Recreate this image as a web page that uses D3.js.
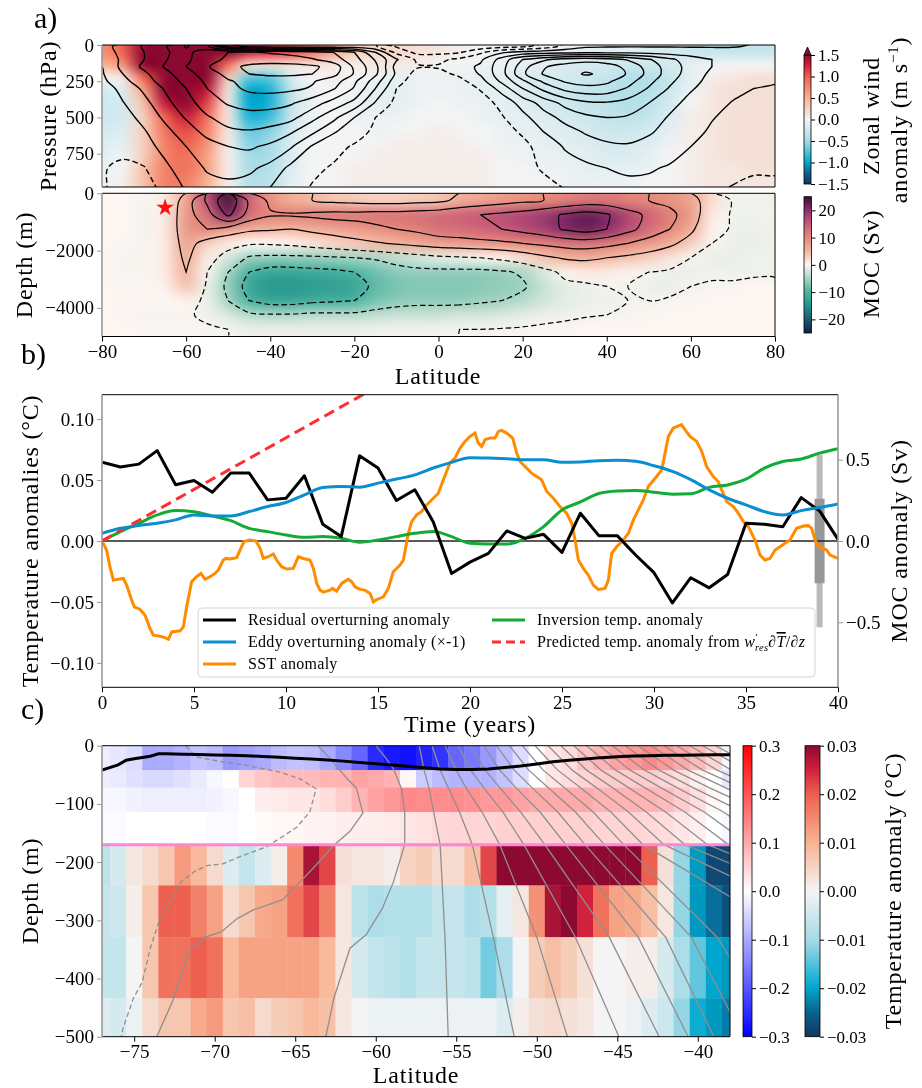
<!DOCTYPE html>
<html>
<head>
<meta charset="utf-8">
<script src="https://cdn.jsdelivr.net/npm/d3@7"></script>
<style>
  body { margin: 0; background: #fff; }
  #wrap { position: relative; width: 922px; height: 1088px; }
  #heat, #fig { position: absolute; left: 0; top: 0; }
  svg text { font-family: "Liberation Serif", "DejaVu Serif", serif; fill: #000; }
</style>
</head>
<body>
<div id="wrap">
<canvas id="heat" width="922" height="1088"></canvas>
<svg id="fig" width="922" height="1088"></svg>
</div>
<script>
// ---------------- panel a (top): zonal wind ----------------
const latA = [-80,-75,-70,-65,-60,-55,-50,-45,-40,-35,-30,-25,-20,-15,-10,-5,0,5,10,15,20,25,30,35,40,45,50,55,60,65,70,75,80];
// mean zonal wind (contours), rows = pressure levels
const presU = [10, 50, 100, 150, 200, 250, 300, 400, 500, 600, 700, 850, 1000];
const uMean = [
  [8,12,15.5,19.5,25.5,21,8,3,2,1.5,1.5,1.5,1.5,0.5,-5.5,-8.5,-8.5,-8.5,-8,-7,-6,-3,1.5,4.3,4.6,4.7,4.7,4.7,4.7,4.7,4.8,5.3,5.6],
  [7.5,11.5,15,19,23.5,28,30,30.5,29.5,28.5,27,25,20,10,-1.5,-6.5,-6.5,-5.5,-1,4,6.5,7.5,8,8.5,8.5,8.5,8,7.5,7,6.5,6.2,6,6],
  [6.5,11,15,19.5,24,28,31,32.5,32.5,32,30.5,27.5,22,14.5,5.5,-1,-1,1,4,12,20,24,27,28,27,24.5,20.5,16,12.5,10,8.5,7.5,7],
  [5,11.5,16,20.5,25,29.5,33.5,36,37,37,36,33,24,16.5,3,0.5,0.5,2.5,6,13,23,29.5,32,33.5,32.5,28.5,23,17.5,13,10,8,7,6.5],
  [4.5,10,14,18.5,23,27.5,31.5,35,36,36,35,31.5,24.5,16,4,-2,-1.5,1,5.5,13,24,30.5,33,35.5,34,29.5,23.5,17.5,12.5,9,7,6,5.5],
  [3.8,8.5,13,17,21.5,26,29.5,31.5,32,31.5,30.5,27.5,21,12.5,2,-3,-3,-1.5,3,11,19,26,30.5,32,31,27,21.5,16,11.5,8.5,6.5,5.5,5.3],
  [2.5,6.5,11,15.5,20,25,28.5,31,31.5,31,29.5,25.5,19.5,10,0,-4,-4,-3,0.5,7,15,21.5,26.5,28.5,28,24.5,19.5,14.5,10.5,7.8,6,5,4.6],
  [1.5,4.8,8.5,13.5,18,22.5,25.5,27,27,25.5,22.5,18,13.5,4.5,-1.5,-4,-4.5,-4.5,-2.5,1.5,7,12,16.5,19,19.5,18,15,11.5,8.5,6.2,4.8,4,3.5],
  [0.5,3,6.5,11,15.5,19.5,22,23,22.5,21.5,16.5,11.5,5,0,-2.5,-4.5,-4.5,-4.5,-3.5,-0.5,3.5,8,11.5,14,15,14.5,12.5,9.5,7,5.2,4,3.2,2.8],
  [0.8,1.5,4.5,8.5,12.5,16.5,19,19.5,18.5,15.5,11,5.5,2,-1,-3,-4.2,-4.5,-4.5,-4,-1.5,0.5,5,8,10.5,12,12,10.5,8.5,6,4.5,3.5,2.8,2.5],
  [0.5,1.2,3.2,6.5,10,13,15,15.8,14,10.5,4.5,1.5,-0.5,-2.5,-3.5,-4.3,-4.5,-4.5,-4.3,-2.5,-1,1.5,5.5,7.5,9,9.5,8.5,7,5,3.8,2.8,2.2,2],
  [0.3,-0.8,-0.3,4,7.5,10.5,11.5,11,8.5,3.5,1,-0.5,-2.5,-4,-4.5,-4.6,-4.6,-4.6,-4.5,-3.5,-1.5,0.5,2.5,4,5,5.8,5.5,4.5,3,2,1,0.5,0.5],
  [0.5,-1.8,-1.5,0.8,5.5,8,8.5,7.5,4.5,1.5,-0.5,-2.5,-4,-4.5,-4.5,-4,-4,-4.5,-4.5,-3.5,-2.5,-1.5,-0.1,1.5,3,3.5,3.5,2.5,1.5,0.5,-0.3,-1,-1]
];
const uLevels = [-5, 0, 5, 10, 15, 20, 25, 30, 35];
// zonal wind anomaly (shading)
const presAnom = [45, 135, 225, 315, 405, 495, 585, 675, 765, 855, 945];
const uAnom = [
  [0.7,1.0,1.6,1.8,1.8,1.8,1.5,1.3,1.2,1.1,0.9,0.6,0.3,0.2,0.2,0.15,0.1,0.05,0,-0.05,-0.05,-0.05,-0.05,-0.1,-0.1,-0.1,-0.15,-0.2,-0.25,-0.3,-0.3,-0.3,-0.3],
  [0.5,0.7,1.5,1.8,1.8,1.7,0.9,0.2,0.2,0.15,0.15,0.1,0.05,0.1,0.1,0.05,0,0,-0.05,-0.05,-0.1,-0.1,-0.15,-0.2,-0.2,-0.25,-0.25,-0.2,-0.1,-0.05,0,0,0],
  [0.05,0.1,1.0,1.8,1.8,1.5,0.3,-0.7,-0.7,-0.2,0,0.05,0,-0.05,-0.1,-0.05,-0.05,-0.05,-0.1,-0.1,-0.15,-0.2,-0.2,-0.25,-0.3,-0.4,-0.4,-0.3,-0.1,0.05,0.1,0.15,0.15],
  [-0.2,-0.15,0.6,1.6,1.8,1.3,0.1,-1.0,-0.9,-0.3,-0.05,0,-0.05,-0.1,-0.1,-0.05,-0.05,-0.05,-0.1,-0.1,-0.15,-0.2,-0.25,-0.3,-0.35,-0.4,-0.4,-0.25,-0.05,0.1,0.15,0.15,0.15],
  [-0.25,-0.2,0.4,1.3,1.6,1.1,0.1,-1.0,-0.9,-0.3,-0.05,0,-0.05,-0.1,-0.1,-0.05,0,-0.05,-0.05,-0.1,-0.15,-0.2,-0.25,-0.3,-0.35,-0.4,-0.35,-0.2,0,0.1,0.15,0.15,0.15],
  [-0.25,-0.2,0.3,1.0,1.3,0.9,0.1,-0.9,-0.8,-0.25,-0.05,0,-0.05,-0.05,-0.05,0,0,0,-0.05,-0.1,-0.1,-0.15,-0.2,-0.25,-0.3,-0.35,-0.3,-0.15,0.05,0.1,0.15,0.15,0.15],
  [-0.2,-0.15,0.3,0.9,1.1,0.8,0.1,-0.7,-0.6,-0.2,-0.05,0,0,-0.05,0,0,0.05,0,0,-0.05,-0.1,-0.1,-0.15,-0.2,-0.25,-0.25,-0.2,-0.1,0.05,0.1,0.15,0.15,0.15],
  [-0.15,-0.1,0.3,0.8,1.0,0.7,0.05,-0.6,-0.5,-0.15,0,0,0,0,0.05,0.05,0.05,0.05,0,-0.05,-0.05,-0.1,-0.1,-0.15,-0.2,-0.2,-0.15,-0.05,0.05,0.1,0.15,0.15,0.15],
  [-0.1,-0.05,0.3,0.8,0.9,0.6,0.05,-0.5,-0.45,-0.15,0,0,0,0.05,0.05,0.05,0.05,0.05,0.05,0,-0.05,-0.05,-0.1,-0.1,-0.15,-0.15,-0.1,0,0.05,0.1,0.15,0.15,0.15],
  [-0.05,0,0.4,0.8,0.9,0.6,0.05,-0.45,-0.4,-0.15,0,0,0.05,0.05,0.05,0.05,0.05,0.05,0.05,0,0,-0.05,-0.05,-0.1,-0.1,-0.1,-0.05,0,0.05,0.1,0.1,0.15,0.15],
  [-0.05,0.05,0.4,0.8,0.8,0.5,0.05,-0.4,-0.35,-0.1,0,0,0.05,0.05,0.05,0.05,0.05,0.05,0.05,0,0,0,-0.05,-0.05,-0.05,-0.05,0,0,0.05,0.1,0.1,0.1,0.1]
];

// ---------------- panel a (bottom): MOC ----------------
const depthMoc = [-250, -750, -1250, -1750, -2250, -2750, -3250, -3750, -4250, -4750];
const moc = [
  [0,0,-0.3,1,7,16,24,14,9,6,5,4,3.5,3,3,3.5,4,6,7,8,9,10,11,12,12,11,10,9,7,2,-0.8,-0.8,-0.8],
  [0,0,-0.5,1,8,13,21,13,10.5,10.5,11,11.5,11.5,12,12,12.5,13,14,15,16,17,18.5,20.5,22,20.5,17,14,11,8,1,-0.8,-0.8,-0.6],
  [0,0,-0.5,1,8,10,8,6,5.5,5,6,7,8,9,10,11,12.5,13,14,15,16.5,18,20.5,22,20,16.5,13,10,6,0.5,-0.8,-1,-0.8],
  [0,-0.2,-0.3,1,7,3,1,0,0,0.5,1.5,2.5,3.5,4.5,5.5,6.5,7.5,8,8.5,9,10,11,12,12.5,11.5,10,8,6,3,-0.5,-1,-1,-0.8],
  [0,-0.3,-0.3,1,6,1,-2,-5.5,-6,-6,-5.8,-5.5,-5,-4.5,-3.5,-2.5,-1.5,-1,-0.5,0.5,2,4,5.5,6,5,4,3,1.5,-0.5,-1,-1,-0.8,-0.8],
  [0,-0.3,-0.3,1,5,-0.5,-5,-10,-12,-12,-11.5,-11,-10,-8,-6.5,-6,-6,-6,-6,-5.5,-4.5,-2,0.5,1,1,0.5,-0.5,-1,-1,-0.8,-0.8,-0.8,-0.8],
  [0,-0.2,-0.2,0.5,4,-1,-6,-12,-14,-14,-13.5,-13,-12,-9,-7.5,-7,-7,-7,-6.5,-6,-5.5,-3,-1.5,-1,-0.5,-0.5,-1,-1,-0.5,-0.3,-0.3,0,0],
  [0,-0.2,-0.1,0,0.5,-1,-5,-10,-12,-12,-11,-10.5,-10,-7.5,-6.5,-6,-6,-6,-5.5,-5,-4,-2.5,-1.5,-1,-1,-0.5,-0.5,-0.3,-0.2,0,0,0,0],
  [0,-0.1,-0.3,-0.3,-0.3,-0.8,-2,-4,-4.5,-4.5,-4,-4,-4,-3.5,-3,-3,-3,-2.5,-2.5,-2,-1.5,-1,-0.8,-0.6,-0.5,-0.3,-0.2,0,0,0,0,0,0],
  [0,0,-0.1,-0.2,-0.2,-0.3,-0.5,-1,-1,-1,-1,-1,-1,-0.8,-0.7,-0.7,-0.6,-0.5,-0.5,-0.4,-0.3,-0.2,-0.1,0,0,0,0,0,0,0,0,0,0]
];
const mocLevels = [-10, -5, -0.5, 5, 10, 15, 20];
const starPoint = [-65, -500];

// ---------------- panel b: time series ----------------
const years = [0,1,2,3,4,5,6,7,8,9,10,11,12,13,14,15,16,17,18,19,20,21,22,23,24,25,26,27,28,29,30,31,32,33,34,35,36,37,38,39,40];
const residualMoc = [0.484,0.455,0.473,0.556,0.346,0.372,0.300,0.418,0.418,0.253,0.263,0.401,0.103,0.027,0.525,0.449,0.249,0.315,0.119,-0.200,-0.130,-0.076,0.062,0.016,0.041,-0.070,0.171,0.033,0.033,-0.086,-0.195,-0.381,-0.226,-0.288,-0.206,0.109,0.103,0.088,0.267,0.185,0.010];
const eddyMoc = [0.047,0.078,0.095,0.109,0.130,0.160,0.154,0.154,0.181,0.212,0.237,0.284,0.329,0.335,0.331,0.356,0.381,0.407,0.449,0.484,0.512,0.510,0.506,0.500,0.500,0.484,0.486,0.494,0.496,0.490,0.463,0.428,0.377,0.315,0.263,0.222,0.181,0.160,0.187,0.206,0.228];
const inversionTemp = [0,0.0077,0.0145,0.0214,0.025,0.024,0.0206,0.0167,0.0104,0.0077,0.0049,0.003,0.0036,0.0022,-0.001,0.0008,0.0036,0.0063,0.0077,0.0036,-0.0019,-0.0025,-0.0025,0.0022,0.0118,0.0255,0.032,0.039,0.041,0.0414,0.04,0.0384,0.0387,0.044,0.046,0.0507,0.0598,0.0652,0.0672,0.0721,0.0757];
const sstSeries = [[0,0],[0.25,-0.0074],[0.43,-0.0211],[0.62,-0.0321],[0.8,-0.0315],[1.16,-0.0307],[1.34,-0.0362],[1.61,-0.0485],[1.76,-0.054],[2.07,-0.0562],[2.34,-0.0609],[2.61,-0.0718],[2.79,-0.0773],[3.15,-0.0781],[3.42,-0.0792],[3.61,-0.0806],[3.79,-0.0746],[4.24,-0.0737],[4.42,-0.0705],[4.6,-0.054],[4.87,-0.0334],[5.14,-0.0293],[5.38,-0.0266],[5.6,-0.0315],[5.87,-0.0293],[6.14,-0.0266],[6.32,-0.0238],[6.59,-0.0156],[6.74,-0.0143],[6.96,-0.0148],[7.32,-0.0137],[7.59,-0.0047],[7.72,-0.0005],[8.04,0.0008],[8.37,0],[8.59,-0.006],[8.77,-0.0143],[9.04,-0.0129],[9.31,-0.0107],[9.49,-0.0156],[9.76,-0.0211],[10.04,-0.023],[10.4,-0.0225],[10.67,-0.0129],[10.94,-0.0143],[11.3,-0.0156],[11.49,-0.0225],[11.67,-0.0348],[11.85,-0.0403],[12.03,-0.0419],[12.39,-0.0403],[12.52,-0.0389],[12.75,-0.0411],[13.03,-0.0348],[13.39,-0.0313],[13.57,-0.0334],[13.75,-0.0376],[14.02,-0.0397],[14.29,-0.0403],[14.57,-0.043],[14.75,-0.0499],[14.93,-0.048],[15.29,-0.0458],[15.56,-0.0389],[15.83,-0.0252],[16.2,-0.0197],[16.38,-0.0156],[16.65,0.0063],[16.83,0.0159],[17.1,0.0214],[17.37,0.0241],[17.64,0.0296],[18.01,0.0351],[18.28,0.0392],[18.55,0.0502],[18.91,0.0639],[19.18,0.068],[19.46,0.0762],[19.73,0.0817],[20,0.0858],[20.27,0.0885],[20.45,0.0803],[20.63,0.0776],[20.82,0.0831],[21.09,0.0844],[21.36,0.0844],[21.54,0.0899],[21.72,0.0907],[21.99,0.0885],[22.32,0.0844],[22.54,0.0721],[22.72,0.0652],[23.08,0.0598],[23.35,0.0556],[23.62,0.0529],[23.89,0.0502],[24.17,0.0406],[24.53,0.0351],[24.89,0.0282],[25.25,0.0228],[25.53,0.0145],[25.71,0.0008],[25.89,-0.0156],[26.16,-0.0225],[26.43,-0.028],[26.7,-0.0362],[26.97,-0.0397],[27.34,-0.0389],[27.52,-0.0321],[27.7,-0.0101],[27.97,-0.0047],[28.33,0.0008],[28.61,0.0063],[28.88,0.0173],[29.15,0.0255],[29.42,0.0337],[29.69,0.0447],[30.14,0.0529],[30.42,0.0584],[30.6,0.0721],[30.78,0.0858],[31.05,0.0927],[31.5,0.0954],[31.68,0.0913],[31.96,0.0858],[32.32,0.0817],[32.59,0.0735],[32.86,0.0611],[33.22,0.0529],[33.49,0.0488],[33.68,0.0419],[33.95,0.0323],[34.31,0.0282],[34.58,0.0228],[34.86,0.0159],[35.13,0.0118],[35.31,0.0063],[35.49,0.0008],[35.76,-0.0115],[36.03,-0.0156],[36.3,-0.0143],[36.58,-0.0074],[36.85,-0.0047],[37.12,-0.0019],[37.39,0.0008],[37.75,0.0104],[38.12,0.0123],[38.39,0.0126],[38.57,0.0104],[38.75,0.0008],[38.93,-0.0047],[39.2,-0.006],[39.38,-0.0074],[39.57,-0.0115],[40,-0.0143]];
const predicted = [[0, 0], [15, 0.127]];
const spreadYear = 39, spreadOne = 0.26, spreadTwo = 0.53;

// ---------------- panel c: temperature anomaly section ----------------
const latC = [-77,-76,-75,-74,-73,-72,-71,-70,-69,-68,-67,-66,-65,-64,-63,-62,-61,-60,-59,-58,-57,-56,-55,-54,-53,-52,-51,-50,-49,-48,-47,-46,-45,-44,-43,-42,-41,-40,-39,-38];
const depthEdges = [0, -42, -72, -114, -170, -240, -329, -434, -540];
const tempAnom = [
  [-0.02,-0.03,-0.04,-0.1,-0.1,-0.09,-0.07,-0.08,-0.12,-0.11,-0.1,-0.08,-0.07,-0.075,-0.1,-0.14,-0.18,-0.25,-0.27,-0.28,-0.26,-0.24,-0.18,-0.16,-0.12,-0.08,-0.04,0.0,0.03,0.04,0.07,0.09,0.11,0.12,0.14,0.12,0.1,0.08,0.05,-0.01],
  [-0.02,-0.025,-0.035,-0.045,-0.045,-0.035,-0.025,-0.01,0,0.05,0.07,0.08,0.08,0.08,0.09,0.09,0.11,0.1,0.09,0.01,-0.06,-0.08,-0.09,-0.09,-0.09,-0.07,-0.04,0.0,0.03,0.04,0.05,0.06,0.06,0.06,0.06,0.05,0.04,0.02,0.0,-0.03],
  [-0.01,-0.01,-0.015,-0.02,-0.02,-0.02,-0.02,-0.015,-0.01,0,0.02,0.025,0.03,0.03,0.04,0.06,0.09,0.11,0.12,0.14,0.135,0.135,0.135,0.13,0.12,0.12,0.11,0.1,0.1,0.1,0.1,0.09,0.09,0.09,0.09,0.08,0.06,0.04,0.01,0.0],
  [-0.005,-0.005,0,0,0,0,0,-0.005,-0.005,0,0.005,0.01,0.01,0.015,0.015,0.02,0.02,0.02,0.025,0.03,0.035,0.045,0.05,0.05,0.05,0.055,0.055,0.055,0.055,0.055,0.055,0.05,0.05,0.05,0.045,0.04,0.03,0.02,0.0,-0.01],
  [-0.007,-0.004,0.002,0.004,0.007,0.013,0.009,0.004,-0.003,-0.006,-0.003,0.001,0.015,0.028,0.022,0.003,0.002,0.002,0.001,0.005,0.006,0.004,0.004,0.008,0.022,0.032,0.032,0.032,0.032,0.032,0.032,0.032,0.032,0.032,0.02,0.003,-0.011,-0.021,-0.028,-0.028],
  [-0.006,-0.005,0.001,0.007,0.02,0.02,0.016,0.012,0.004,0.007,0.011,0.012,0.018,0.022,0.016,0.002,-0.007,-0.009,-0.008,-0.008,-0.008,-0.006,-0.006,-0.009,-0.008,-0.002,0.002,0.014,0.028,0.031,0.025,0.018,0.012,0.011,0.008,0.002,-0.011,-0.021,-0.024,-0.027],
  [-0.006,-0.006,0,0.007,0.018,0.018,0.02,0.018,0.009,0.012,0.012,0.012,0.012,0.012,0.009,0.002,-0.004,-0.006,-0.007,-0.008,-0.006,-0.006,-0.006,-0.007,-0.013,-0.009,0.0,0.006,0.008,0.006,0.003,0.0,0.0,0.001,0.001,-0.004,-0.009,-0.014,-0.02,-0.021],
  [-0.003,-0.004,-0.001,0.004,0.007,0.007,0.011,0.013,0.007,0.008,0.004,0.006,0.007,0.009,0.008,0.002,0,-0.001,-0.001,-0.001,-0.001,-0.001,-0.001,-0.001,-0.001,-0.003,0.001,0.003,0.004,0.003,0.002,0,0,-0.001,-0.003,-0.005,-0.011,-0.019,-0.021,-0.023]
];
const splitDepth = -170;
const mldLat = [-77,-76,-75.5,-75,-74,-73.5,-73,-72,-71,-70,-69,-68,-67,-66,-65,-64,-63,-62,-61,-60,-59,-58,-57,-56,-55,-54,-53,-52,-51,-50,-49,-48,-47,-46,-45,-44,-43,-42,-41,-40,-39,-38];
const mldDepth = [-42,-33,-25,-22.5,-18,-14,-14,-14.5,-15.2,-15.8,-16.5,-17.3,-18.5,-20,-21.5,-23,-24.5,-26.5,-29,-31,-33,-35.5,-38,-40,-41,-41,-40,-37.5,-35,-31.5,-27.5,-25,-23,-20.5,-19,-17.8,-17.2,-16.6,-16.2,-15.9,-15.6,-15.4];
// mean isotherms: irregular ones as [lat, depth] lists, regular ones as lats at isoDepths
const isoCold = [[-71.8,0],[-71.2,-19],[-69.5,-28],[-68.2,-33],[-66,-45],[-64.7,-57],[-63.7,-74],[-64.1,-114],[-64.9,-140],[-66,-160],[-66.8,-174],[-68.2,-188],[-69.5,-203],[-70.5,-206],[-71.3,-217],[-72.1,-234],[-72.8,-268],[-73.5,-305],[-74,-348],[-74.5,-406],[-75.05,-434],[-75.7,-486],[-75.8,-500]];
const isoZero = [[-63.6,0],[-62.9,-20],[-61.8,-56],[-61.2,-73],[-60.8,-116],[-61.6,-147],[-62.6,-171],[-63.7,-205],[-64.7,-234],[-65.8,-265],[-67.6,-282],[-68.6,-297],[-69.6,-320],[-70.6,-329],[-71.6,-352],[-72.6,-438],[-73.6,-500]];
const isoOne = [[-60,0],[-59.4,-20],[-58.9,-40],[-58.4,-74],[-58.2,-114],[-58.2,-170],[-58.9,-234],[-59.6,-280],[-60.6,-325],[-61.6,-348],[-62.6,-434],[-63.1,-500]];
const isoDepths = [0, -42, -72, -114, -170, -329, -500];
const isoLats = [
  [-57.3,-57.0,-56.7,-56.4,-56.0,-55.7,-55.5],
  [-56.5,-56.0,-55.5,-54.8,-54.0,-52.7,-51.4],
  [-55.7,-55.0,-54.4,-53.4,-52.3,-50.0,-48.1],
  [-54.9,-54.1,-53.3,-52.1,-50.8,-47.6,-44.9],
  [-54.1,-53.2,-52.3,-51.0,-49.5,-45.5,-42.4],
  [-53.3,-52.3,-51.3,-49.8,-48.2,-43.7,-40.6],
  [-52.5,-51.4,-50.3,-48.7,-47.0,-42.0,-39.0],
  [-51.7,-50.5,-49.3,-47.6,-45.8,-40.4,-37.2],
  [-50.9,-49.6,-48.3,-46.5,-44.6,-38.8,-35.0],
  [-50.1,-48.7,-47.3,-45.4,-43.4,-33.8,-28],
  [-49.3,-47.8,-46.3,-44.3,-42.1,-30,-22],
  [-48.5,-46.9,-45.3,-43.2,-40.8,-27,-18],
  [-47.7,-46.0,-44.3,-42.0,-39.4,-25,-15],
  [-46.9,-45.1,-43.3,-40.8,-38.1,-23,-12],
  [-46.1,-44.2,-42.3,-39.6,-36.8,-21,-10],
  [-45.3,-43.3,-41.3,-38.4,-35.5,-19,-8],
  [-44.5,-42.4,-40.3,-37.2,-34.2,-17,-6],
  [-43.7,-41.5,-39.3,-36.0,-33,-15,-4],
  [-42.9,-40.6,-38.3,-34.8,-31.7,-13,-2],
  [-42.1,-39.7,-37.3,-33.6,-30.4,-11,0],
  [-41.3,-38.8,-36.3,-32.4,-29,-9,2],
  [-40.5,-37.9,-35.3,-31.2,-28,-7,4],
  [-39.7,-37.0,-34.3,-30.0,-27,-5,6],
  [-38.9,-36.1,-33.3,-28.8,-26,-3,8]
];

// ---------------- colour maps ----------------
function ramp(stops) {
  return d3.scaleLinear().domain(stops.map(d => d[0])).range(stops.map(d => d[1]))
    .interpolate(d3.interpolateRgb).clamp(true);
}
const balance = ramp([[0,"#10385f"],[0.08,"#0a5f8e"],[0.17,"#00a9cf"],[0.33,"#a2dae6"],[0.5,"#f4f4f4"],[0.67,"#f8b190"],[0.83,"#ee6250"],[0.92,"#cf1f3c"],[1,"#8c0a31"]]);
const curl = ramp([[0,"#151d44"],[0.1,"#1d5a72"],[0.2,"#22948c"],[0.3,"#4db3a0"],[0.4,"#a6d4c2"],[0.5,"#fdf6f3"],[0.6,"#f2b7a0"],[0.7,"#e58a7a"],[0.8,"#c85c78"],[0.9,"#8e2f6b"],[1,"#341035"]]);
const bwr = ramp([[0,"#0000ff"],[0.5,"#ffffff"],[1,"#ff0000"]]);
const windColor = v => balance((v + 1.5) / 3);
const mocColor = v => curl((v + 25) / 50);
const upperColor = v => bwr((v + 0.3) / 0.6);
const lowerColor = v => balance((v + 0.03) / 0.06);

// ---------------- scales ----------------
const xA = d3.scaleLinear([-80, 80], [102, 775]);
const yP = d3.scaleLinear([0, 980], [45, 187]);
const yM = d3.scaleLinear([0, -5000], [193.3, 336.5]);
const xB = d3.scaleLinear([0, 40], [102, 838]);
const yT = d3.scaleLinear([-0.12, 0.12], [687.3, 394.7]);
const yS = d3.scaleLinear([-0.9, 0.9], [687.3, 394.7]);
const xC = d3.scaleLinear([-77, -38], [102, 730]);
const yC = d3.scaleLinear([0, -500], [745.7, 1036.7]);

const ctx = document.getElementById("heat").getContext("2d");
const svg = d3.select("#fig");
const defs = svg.append("defs");
const FONT = '"Liberation Serif", "DejaVu Serif", serif';
const LABEL = 24, TICK = 19;

function clipRect(id, x0, x1, y0, y1) {
  defs.append("clipPath").attr("id", id).append("rect")
    .attr("x", x0).attr("y", y0).attr("width", x1 - x0).attr("height", y1 - y0);
}
clipRect("clipP", 102, 775, 45, 187);
clipRect("clipM", 102, 775, 194, 335.5);
clipRect("clipB", 102, 838, 394.7, 687.3);
clipRect("clipC", 102, 730, 745.7, 1036.7);

// smooth heat map drawn on the canvas underneath the svg
function smoothHeat(grid, color, xs, ys, xs0, ys0, box) {
  const rows = grid.length, cols = grid[0].length;
  const off = document.createElement("canvas");
  off.width = cols; off.height = rows;
  const octx = off.getContext("2d");
  const img = octx.createImageData(cols, rows);
  grid.forEach((row, j) => row.forEach((v, i) => {
    const c = d3.rgb(color(v)), k = 4 * (j * cols + i);
    img.data[k] = c.r; img.data[k + 1] = c.g; img.data[k + 2] = c.b; img.data[k + 3] = 255;
  }));
  octx.putImageData(img, 0, 0);
  const dx = xs0[1] - xs0[0], dy = ys0[1] - ys0[0];
  const x0 = xs(xs0[0] - dx / 2), x1 = xs(xs0[cols - 1] + dx / 2);
  const y0 = ys(ys0[0] - dy / 2), y1 = ys(ys0[rows - 1] + dy / 2);
  ctx.save();
  ctx.beginPath(); ctx.rect(box[0], box[1], box[2] - box[0], box[3] - box[1]); ctx.clip();
  ctx.imageSmoothingEnabled = true; ctx.imageSmoothingQuality = "high";
  ctx.drawImage(off, x0, y0, x1 - x0, y1 - y0);
  ctx.restore();
}

// contour lines from a grid with d3.contours, mapped back through the grid axes
function drawContours(g, grid, xs0, ys0, levels, xs, ys, width) {
  const n = xs0.length, m = ys0.length;
  const fx = d3.scaleLinear(d3.range(n), xs0);
  const fy = d3.scaleLinear(d3.range(m), ys0);
  const line = d3.line().curve(d3.curveCatmullRomClosed.alpha(0.5));
  d3.contours().size([n, m]).thresholds(levels)(grid.flat()).forEach(c => {
    c.coordinates.forEach(poly => poly.forEach(ring => {
      const pts = ring.slice(0, -1).map(([x, y]) => [xs(fx(x - 0.5)), ys(fy(y - 0.5))]);
      g.append("path").attr("d", line(pts)).attr("fill", "none").attr("stroke", "#000")
        .attr("stroke-width", width).attr("stroke-dasharray", c.value <= 0 ? "5.5,3" : null);
    }));
  });
}

function styleAxis(g, size, tickColor) {
  g.attr("font-family", FONT).attr("font-size", size);
  g.select(".domain").remove();
  g.selectAll(".tick line").attr("stroke", tickColor || "#000");
  g.selectAll(".tick text").attr("fill", "#000");
  return g;
}

function frame(x0, x1, y0, y1, leftColor, rightColor) {
  const g = svg.append("g").attr("stroke-width", 1);
  g.append("line").attr("x1", x0).attr("x2", x1).attr("y1", y0).attr("y2", y0).attr("stroke", "#000");
  g.append("line").attr("x1", x0).attr("x2", x1).attr("y1", y1).attr("y2", y1).attr("stroke", "#000");
  g.append("line").attr("x1", x0).attr("x2", x0).attr("y1", y0).attr("y2", y1).attr("stroke", leftColor).attr("stroke-width", 1.6);
  g.append("line").attr("x1", x1).attr("x2", x1).attr("y1", y0).attr("y2", y1).attr("stroke", rightColor).attr("stroke-width", rightColor === "#000" ? 1 : 1.6);
}

function vlabel(x, y, txt, size) {
  return svg.append("text").attr("transform", `translate(${x},${y}) rotate(-90)`)
    .attr("text-anchor", "middle").attr("font-size", size).attr("letter-spacing", 0.8).text(txt);
}
function hlabel(x, y, txt) {
  return svg.append("text").attr("x", x).attr("y", y).attr("text-anchor", "middle")
    .attr("font-size", LABEL).attr("letter-spacing", 0.8).text(txt);
}

function colorbar(id, x, w, y0, y1, vmin, vmax, colorFn, ticks, fmt) {
  const grad = defs.append("linearGradient").attr("id", id)
    .attr("x1", 0).attr("y1", 1).attr("x2", 0).attr("y2", 0);
  d3.range(0, 1.0001, 0.02).forEach(t =>
    grad.append("stop").attr("offset", t).attr("stop-color", colorFn(vmin + t * (vmax - vmin))));
  svg.append("rect").attr("x", x).attr("y", y0).attr("width", w).attr("height", y1 - y0)
    .attr("fill", `url(#${id})`).attr("stroke", "#000").attr("stroke-width", 0.8);
  const sc = d3.scaleLinear([vmin, vmax], [y1, y0]);
  styleAxis(svg.append("g").attr("transform", `translate(${x + w},0)`)
    .call(d3.axisRight(sc).tickValues(ticks).tickFormat(fmt).tickSize(4).tickPadding(3)), 17);
}

// ================= panel a =================
smoothHeat(uAnom, windColor, xA, yP, latA, presAnom, [102, 45, 775, 187]);
smoothHeat(moc, mocColor, xA, yM, latA, depthMoc, [102, 193.3, 775, 336.5]);

drawContours(svg.append("g").attr("clip-path", "url(#clipP)"), uMean, latA, presU, uLevels, xA, yP, 1.4);
drawContours(svg.append("g").attr("clip-path", "url(#clipM)"), moc, latA, depthMoc, mocLevels, xA, yM, 1.2);

svg.append("path").attr("d", d3.symbol(d3.symbolStar, 95)())
  .attr("transform", `translate(${xA(starPoint[0])},${yM(starPoint[1])})`).attr("fill", "#ff1010");

frame(102, 775, 45, 187, "#999", "#000");
frame(102, 775, 193.3, 336.5, "#999", "#000");

styleAxis(svg.append("g").attr("transform", "translate(102,0)")
  .call(d3.axisLeft(yP).tickValues([0, 250, 500, 750]).tickSize(5).tickPadding(3)), TICK, "#999");
styleAxis(svg.append("g").attr("transform", "translate(102,0)")
  .call(d3.axisLeft(yM).tickValues([0, -2000, -4000]).tickFormat(d3.format("d")).tickSize(5).tickPadding(3)), TICK, "#999");
styleAxis(svg.append("g").attr("transform", "translate(0,336.5)")
  .call(d3.axisBottom(xA).tickValues([-80, -60, -40, -20, 0, 20, 40, 60, 80]).tickFormat(d3.format("d")).tickSize(5).tickPadding(3)), TICK);

vlabel(56, 116, "Pressure (hPa)", LABEL);
vlabel(32, 265, "Depth (m)", LABEL);
hlabel(438, 384, "Latitude");
svg.append("text").attr("x", 34).attr("y", 28).attr("font-size", 30).text("a)");

colorbar("cbWind", 804, 7, 55, 184, -1.5, 1.5, windColor, [-1.5, -1, -0.5, 0, 0.5, 1, 1.5], d3.format(".1f"));
svg.append("path").attr("d", "M804,55 L811,55 L807.5,47 Z").attr("fill", windColor(1.6)).attr("stroke", "#000").attr("stroke-width", 0.8);
colorbar("cbMoc", 804, 7.5, 196.7, 333, -25, 25, mocColor, [-20, -10, 0, 10, 20], d3.format("d"));
vlabel(879, 116, "Zonal wind", LABEL);
const windLab = svg.append("text").attr("transform", "translate(907,120) rotate(-90)")
  .attr("text-anchor", "middle").attr("font-size", LABEL).attr("letter-spacing", 0.8);
windLab.append("tspan").text("anomaly (m s");
windLab.append("tspan").attr("font-size", 15).attr("dy", -9).text("−1");
windLab.append("tspan").attr("dy", 9).text(")");
vlabel(879, 264, "MOC (Sv)", LABEL);

// ================= panel b =================
const gb = svg.append("g").attr("clip-path", "url(#clipB)");
gb.append("line").attr("x1", xB(spreadYear)).attr("x2", xB(spreadYear))
  .attr("y1", yS(spreadTwo)).attr("y2", yS(-spreadTwo)).attr("stroke", "#b9b9b9").attr("stroke-width", 6);
gb.append("line").attr("x1", xB(spreadYear)).attr("x2", xB(spreadYear))
  .attr("y1", yS(spreadOne)).attr("y2", yS(-spreadOne)).attr("stroke", "#979797").attr("stroke-width", 10);
gb.append("line").attr("x1", xB(0)).attr("x2", xB(40)).attr("y1", yT(0)).attr("y2", yT(0))
  .attr("stroke", "#222").attr("stroke-width", 1.5);

const lineT = d3.line().x(d => xB(d[0])).y(d => yT(d[1]));
const lineS = d3.line().x(d => xB(d[0])).y(d => yS(d[1]));
gb.append("path").attr("d", lineT(sstSeries)).attr("fill", "none").attr("stroke", "#ff8c00").attr("stroke-width", 3);
gb.append("path").attr("d", lineT.curve(d3.curveMonotoneX)(years.map((t, i) => [t, inversionTemp[i]])))
  .attr("fill", "none").attr("stroke", "#11ab35").attr("stroke-width", 3);
lineT.curve(d3.curveLinear);
gb.append("path").attr("d", lineT(predicted)).attr("fill", "none").attr("stroke", "#ff2d2d")
  .attr("stroke-width", 3).attr("stroke-dasharray", "11,6");
gb.append("path").attr("d", lineS(years.map((t, i) => [t, residualMoc[i]]))).attr("fill", "none")
  .attr("stroke", "#000").attr("stroke-width", 3).attr("stroke-linejoin", "round");
gb.append("path").attr("d", lineS.curve(d3.curveMonotoneX)(years.map((t, i) => [t, eddyMoc[i]])))
  .attr("fill", "none").attr("stroke", "#0b8ed0").attr("stroke-width", 3);

frame(102, 838, 394.7, 687.3, "#999", "#999");
styleAxis(svg.append("g").attr("transform", "translate(102,0)")
  .call(d3.axisLeft(yT).tickValues([-0.1, -0.05, 0, 0.05, 0.1]).tickFormat(d3.format(".2f")).tickSize(5).tickPadding(3)), TICK, "#999");
styleAxis(svg.append("g").attr("transform", "translate(838,0)")
  .call(d3.axisRight(yS).tickValues([-0.5, 0, 0.5]).tickFormat(d3.format(".1f")).tickSize(5).tickPadding(3)), TICK, "#999");
styleAxis(svg.append("g").attr("transform", "translate(0,687.3)")
  .call(d3.axisBottom(xB).tickValues([0, 5, 10, 15, 20, 25, 30, 35, 40]).tickSize(5).tickPadding(3)), TICK);
vlabel(38, 541, "Temperature anomalies (°C)", LABEL);
vlabel(907, 541, "MOC anomaly (Sv)", LABEL);
hlabel(470, 732, "Time (years)");
svg.append("text").attr("x", 21).attr("y", 364).attr("font-size", 30).text("b)");

// legend
const lg = svg.append("g").attr("font-size", 16);
lg.append("rect").attr("x", 198).attr("y", 608).attr("width", 617).attr("height", 69).attr("rx", 4)
  .attr("fill", "#fff").attr("fill-opacity", 0.85).attr("stroke", "#d4d4d4");
const entries = [
  {x: 203, y: 620, color: "#000", dash: null, label: "Residual overturning anomaly"},
  {x: 203, y: 642, color: "#0b8ed0", dash: null, label: "Eddy overturning anomaly (×-1)"},
  {x: 203, y: 664, color: "#ff8c00", dash: null, label: "SST anomaly"},
  {x: 492, y: 620, color: "#11ab35", dash: null, label: "Inversion temp. anomaly"},
  {x: 492, y: 642, color: "#ff2d2d", dash: "9,5", label: null}
];
entries.forEach(e => {
  lg.append("line").attr("x1", e.x).attr("x2", e.x + 33).attr("y1", e.y).attr("y2", e.y)
    .attr("stroke", e.color).attr("stroke-width", 3).attr("stroke-dasharray", e.dash);
  if (e.label) lg.append("text").attr("x", e.x + 45).attr("y", e.y + 5).attr("letter-spacing", 0.3).text(e.label);
});
const pl = lg.append("text").attr("x", 537).attr("y", 647).attr("letter-spacing", 0.3);
pl.append("tspan").text("Predicted temp. anomaly from ");
pl.append("tspan").attr("font-style", "italic").text("w");
pl.append("tspan").attr("font-size", 11).attr("dy", -6).text("′");
pl.append("tspan").attr("font-size", 10.5).attr("font-style", "italic").attr("dx", -3).attr("dy", 10).text("res");
pl.append("tspan").attr("dy", -4).text("∂");
pl.append("tspan").attr("font-style", "italic").attr("text-decoration", "overline").text("T");
pl.append("tspan").text("/∂");
pl.append("tspan").attr("font-style", "italic").text("z");

// ================= panel c =================
const cells = [];
tempAnom.forEach((row, r) => row.forEach((v, i) => cells.push({r, lat: latC[i], v})));
svg.append("g").attr("clip-path", "url(#clipC)").selectAll("rect").data(cells).join("rect")
  .attr("x", d => xC(d.lat - 0.5)).attr("width", d => xC(d.lat + 0.5) - xC(d.lat - 0.5) + 0.4)
  .attr("y", d => yC(depthEdges[d.r])).attr("height", d => yC(depthEdges[d.r + 1]) - yC(depthEdges[d.r]) + 0.4)
  .attr("fill", d => d.r < 4 ? upperColor(d.v) : lowerColor(d.v));

const gc = svg.append("g").attr("clip-path", "url(#clipC)");
const lineC = d3.line().x(d => xC(d[0])).y(d => yC(d[1]));
[isoZero, isoOne].concat(isoLats.map(lats => lats.map((l, k) => [l, isoDepths[k]]))).forEach(pts =>
  gc.append("path").attr("d", lineC(pts)).attr("fill", "none").attr("stroke", "#8f8f8f").attr("stroke-width", 1.3));
gc.append("path").attr("d", lineC(isoCold)).attr("fill", "none").attr("stroke", "#8f8f8f")
  .attr("stroke-width", 1.3).attr("stroke-dasharray", "5,3");
gc.append("line").attr("x1", xC(-77)).attr("x2", xC(-38)).attr("y1", yC(splitDepth)).attr("y2", yC(splitDepth))
  .attr("stroke", "#ff85d8").attr("stroke-width", 3);
gc.append("path").attr("d", lineC(mldLat.map((l, i) => [l, mldDepth[i]]))).attr("fill", "none")
  .attr("stroke", "#000").attr("stroke-width", 3);

frame(102, 730, 745.7, 1036.7, "#999", "#000");
styleAxis(svg.append("g").attr("transform", "translate(102,0)")
  .call(d3.axisLeft(yC).tickValues([0, -100, -200, -300, -400, -500]).tickFormat(d3.format("d")).tickSize(5).tickPadding(3)), TICK, "#999");
styleAxis(svg.append("g").attr("transform", "translate(0,1036.7)")
  .call(d3.axisBottom(xC).tickValues([-75, -70, -65, -60, -55, -50, -45, -40]).tickFormat(d3.format("d")).tickSize(5).tickPadding(3)), TICK);
vlabel(38, 891, "Depth (m)", LABEL);
hlabel(416, 1083, "Latitude");
svg.append("text").attr("x", 21).attr("y", 719).attr("font-size", 30).text("c)");

colorbar("cbUp", 743, 9, 745.7, 1036.7, -0.3, 0.3, upperColor, [-0.3, -0.2, -0.1, 0, 0.1, 0.2, 0.3], d3.format(".1f"));
colorbar("cbLow", 805, 15, 745.7, 1036.7, -0.03, 0.03, lowerColor, [-0.03, -0.02, -0.01, 0, 0.01, 0.02, 0.03], d3.format(".2f"));
vlabel(901, 891, "Temperature anomaly (°C)", LABEL);
</script>
</body>
</html>
